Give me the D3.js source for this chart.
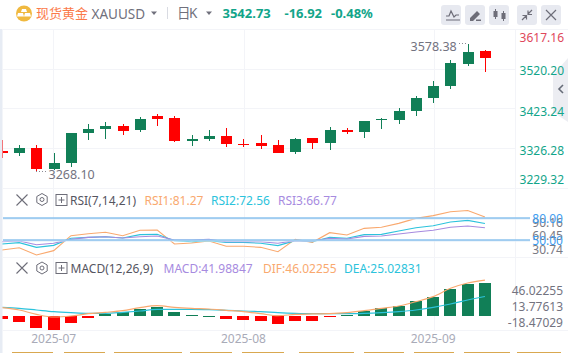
<!DOCTYPE html>
<html><head><meta charset="utf-8">
<script src="https://cdn.jsdelivr.net/npm/d3@7"></script>
<style>html,body{margin:0;padding:0;background:#fff;overflow:hidden}svg{display:block}text{font-family:"Noto Sans","Noto Sans CJK SC",sans-serif}</style>
</head><body><svg id="c" width="568" height="353"></svg>
<script>
const opens =[3318.8,3314,3326.1,3275.4,3289.9,3362.3,3372,3379.2,3369.5,3403.3,3398.5,3343,3347.8,3355,3335.7,3338.2,3333.3,3316.4,3350.2,3338.2,3369.5,3364.7,3393.7,3393.7,3415.4,3446.8,3475.8,3528.9,3559.65];
const closes=[3314,3326.1,3275.4,3289.9,3362.3,3372,3379.2,3367.1,3396.1,3396.1,3343,3347.8,3355,3335.7,3333.3,3330.9,3314,3347.8,3338.2,3369.5,3364.7,3391.3,3396.1,3415.4,3446.8,3475.8,3531.3,3557.9,3542.73];
const highs =[3345.4,3333.3,3333.3,3314,3362.3,3384,3388.9,3384,3400.9,3408.2,3403.3,3357.5,3369.5,3374.4,3347.8,3357.5,3345.4,3350.2,3350.2,3376.8,3374.4,3391.3,3398.5,3422.7,3451.6,3487.8,3538.5,3578.38,3562.7];
const lows  =[3301.9,3306.8,3268.1,3273,3280.2,3345.4,3347.8,3357.5,3364.7,3379.2,3340.6,3330.9,3343,3328.5,3328.5,3323.7,3314,3311.6,3323.7,3321.3,3359.9,3350.2,3372,3384,3403.3,3434.7,3468.5,3524,3509.6];
const rsi1=[36.4,39.5,29.5,35.5,55.9,58.6,60.5,55.9,63.2,63.6,44.5,45.9,48.6,41.4,41.4,40,34.1,50.9,46.8,60,56.8,65.9,67.3,72.7,79.5,83.2,88.6,90.16,81.27];
const rsi2=[44.5,46.4,40,42.7,52.3,53.6,54.5,52.7,57.3,57.7,49.1,47.7,49.1,46.8,46.8,45.5,42.3,49.1,47.7,53.6,52.3,57.3,57.7,62.3,66.8,69.5,74.5,76.8,72.56];
const rsi3=[47.7,48.6,43.6,45.5,50.9,53.6,54.5,52.7,54.5,55.5,50,50,50.9,47.7,47.7,47.7,45.5,49.1,48.6,52.3,51.4,55,55.5,58.2,60.9,63.2,67.3,69.1,66.77];
const macdHist=[-3.8,-7.7,-15,-17.9,-9,-2.6,2.6,5.1,9,11.5,5.1,1.3,0.6,-3.8,-5.1,-6.4,-10.3,-6.4,-6.4,-1.3,1.3,6.4,9.8,12.8,19.2,24.4,34.6,41,41.98847];
const dif=[10.7,7.7,2.1,-1.3,0,3,4.7,6.8,10.7,13.2,11.1,9.8,9,7.3,5.6,3,0.4,2.1,2.6,3,4.3,6.8,9.8,12.8,18.4,24.8,35.5,42.3,46.02255];
const dea=[11.1,9.8,7.7,5.6,4.3,3.4,3.4,4.7,6.4,8.5,8.5,8.5,8.1,7.3,6.4,5.6,4.3,3.4,3,3,3,3.4,4.3,5.6,7.7,11.1,15.4,20.5,25.02831];
const priceTicks=["3617.16","3520.20","3423.24","3326.28","3229.32"];
const rsiLevels=[80,50];
const rsiTicks=["90.16","60.45","30.74"];
const macdTicks=["46.02255","13.77613","-18.47029"];
const monthLabels=[["2025-07",3],["2025-08",14],["2025-09",25]];

const GREEN="#117f57",RED="#ff0000",ORANGE="#f9a96f",CYAN="#2cc3dc",PURPLE="#a78bdf",GRID="#f3f4f8",AX="#73737f",TEAL="#12a58a";
const svg=d3.select("#c");
const n=opens.length;
const x=d3.scaleLinear().domain([0,n-1]).range([1.95,484.95]);
const yP=d3.scaleLinear().domain([3578.38,3268.1]).range([43.5,172]);
const yR=d3.scaleLinear().domain([80,50]).range([218,240]);
const yM=d3.scaleLinear().domain([0,46.02255]).range([316,280.1]);
const t=(s,px,py,o={})=>svg.append("text").attr("x",px).attr("y",py).text(s)
  .attr("font-size",o.size||12).attr("fill",o.fill||AX).attr("text-anchor",o.anchor||"start")
  .attr("font-weight",o.weight||400).attr("dominant-baseline","central");
const hl=(x1,x2,y,c,w=1)=>svg.append("line").attr("x1",x1).attr("x2",x2).attr("y1",y).attr("y2",y).attr("stroke",c).attr("stroke-width",w);
const vl=(xx,y1,y2,c,w=1)=>svg.append("line").attr("x1",xx).attr("x2",xx).attr("y1",y1).attr("y2",y2).attr("stroke",c).attr("stroke-width",w);

// grid
[69.5,108.5,148.5].forEach(g=>hl(3,516,g,GRID));
hl(3,568,29.5,GRID);hl(3,568,188.5,GRID);hl(3,568,257.5,GRID);hl(3,568,330.5,GRID);
[53.5,244.5,434.5,515.5].forEach(v=>vl(v,30,330,GRID));

// candles
const cw=11;
d3.range(n).forEach(i=>{
  const up=closes[i]>=opens[i],c=up?GREEN:RED,cx=Math.round(x(i))+0.5;
  vl(cx,Math.round(yP(highs[i])),Math.round(yP(lows[i])),c);
  const a=Math.round(yP(Math.max(opens[i],closes[i]))),b=Math.round(yP(Math.min(opens[i],closes[i])));
  svg.append("rect").attr("x",cx-cw/2).attr("width",cw).attr("y",a).attr("height",Math.max(1,b-a)).attr("fill",c);
});
// extreme labels
t("3578.38",410.5,46.5,{size:12.5});
svg.append("line").attr("x1",459).attr("x2",468).attr("y1",43.5).attr("y2",43.5).attr("stroke","#8a8a95").attr("stroke-dasharray","1 2");
svg.append("line").attr("x1",36).attr("x2",48).attr("y1",171.5).attr("y2",171.5).attr("stroke","#8a8a95").attr("stroke-dasharray","1 2");
t("3268.10",48.5,174.5,{size:12.5});

// right collapse tab
svg.append("path").attr("d","M568 58L553 75V112L568 122Z").attr("fill","#ecedf2");
svg.append("path").attr("d","M563 85l-4 4 4 4").attr("fill","none").attr("stroke","#666c78").attr("stroke-width",1.6);

// price axis
const priceY=[37,70,111,150,179],priceC=["#e0485a",TEAL,TEAL,TEAL,TEAL];
priceTicks.forEach((s,i)=>t(s,564,priceY[i],{anchor:"end",fill:priceC[i],size:12}));

// RSI
const line=(s)=>d3.line().x((d,i)=>x(i)).y(d=>s(d));
[[rsi1,ORANGE],[rsi2,CYAN],[rsi3,PURPLE]].forEach(([d,c])=>svg.append("path").attr("d",line(yR)(d)).attr("fill","none").attr("stroke",c).attr("stroke-width",1.1));
rsiLevels.forEach(l=>{hl(3,530,yR(l)+0.5,"#dcebf9",2);hl(3,530,yR(l),"#64aee8",1);});
[[rsiTicks[0],222],[rsiTicks[1],235],[rsiTicks[2],249]].forEach(([s,y])=>t(s,563,y,{anchor:"end",size:12,fill:"#7a7a84"}));
[["80.00",218],["50.00",240]].forEach(([s,y])=>t(s,563,y,{anchor:"end",size:12,fill:"#3d9df0"}));

// MACD
d3.range(n).forEach(i=>{
  const v=macdHist[i],cx=Math.round(x(i))+0.5;
  const a=Math.round(yM(Math.max(v,0))),b=Math.round(yM(Math.min(v,0)));
  svg.append("rect").attr("x",cx-6.5).attr("width",12).attr("y",a).attr("height",Math.max(1,b-a)).attr("fill",v>=0?GREEN:RED);
});
[[dea,CYAN],[dif,ORANGE]].forEach(([d,c])=>svg.append("path").attr("d",line(yM).curve(d3.curveMonotoneX)(d)).attr("fill","none").attr("stroke",c).attr("stroke-width",1.2));
[[macdTicks[0],290],[macdTicks[1],306.5],[macdTicks[2],322]].forEach(([s,y])=>t(s,563,y,{anchor:"end",size:12}));

// x axis
monthLabels.forEach(([s,i])=>t(s,x(i),338.5,{anchor:"middle",fill:"#a9abb8",size:12}));
[[12,53],[64,105],[114,182],[190,232],[242,284],[299,354],[364,404],[414,454],[464,510],[517,561]].forEach(([a,b])=>hl(a,b,352.5,"#d9a850"));

// left margin: white gutter then frame, so marks are clipped at the plot's edge
svg.append("rect").attr("y",29).attr("width",2.5).attr("height",324).attr("fill","#e7ecf4");

// header
svg.append("circle").attr("cx",24).attr("cy",13.5).attr("r",8).attr("fill","#f0b93f");
svg.append("path").attr("d","M22 9h4l1 3h-6zM18 13h5l1 3.5h-7zM25 13h5l1 3.5h-7z").attr("fill","#fff");
t("现货黄金",36,12.5,{size:13,fill:"#fb7a4a"});
t("XAUUSD",91.5,14,{size:13.5,fill:"#70707c"});
svg.append("path").attr("d","M151 11.500h6l-3 3.500z").attr("fill","#70707c");
vl(167.5,7,19,"#d9dbe2");
t("日",177,12.5,{size:13.5,fill:"#70707c"});
t("K",189,12.5,{size:13.5,fill:"#70707c"});
svg.append("path").attr("d","M206 11.500h6l-3 3.500z").attr("fill","#70707c");
t("3542.73",222.5,13,{size:13,fill:TEAL,weight:700});
t("-16.92",284.5,13,{size:13,fill:TEAL,weight:700});
t("-0.48%",331,13,{size:13,fill:TEAL,weight:700});
// toolbar buttons
[441,465,489,517,541].forEach(b=>svg.append("rect").attr("x",b).attr("y",5).attr("width",20).attr("height",20).attr("rx",3).attr("fill","#e7e9f0"));
const IC="#6d6d78";
svg.append("path").attr("d","M446 16h3l2-5 3 6 2-2h3M446 20h14").attr("fill","none").attr("stroke",IC).attr("stroke-width",1.2);
svg.append("path").attr("d","M470 18l7-7 3 3-7 7h-3zM476 19.500h5v1.500h-5z").attr("fill",IC);
svg.append("path").attr("d","M495.500 9v10M503.500 11v10").attr("stroke",IC);
svg.append("rect").attr("x",493.5).attr("y",11).attr("width",4).attr("height",6).attr("fill",IC);
svg.append("rect").attr("x",501.5).attr("y",13).attr("width",4).attr("height",6).attr("fill",IC);
svg.append("path").attr("d","M522 20l4-4M522.500 15.500h4v4M532 10l-4 4M528 10.500v4h4").attr("fill","none").attr("stroke",IC).attr("stroke-width",1.2);
svg.append("path").attr("d","M546 10l10 10M556 10l-10 10").attr("stroke",IC).attr("stroke-width",1.2);

// panel headers
const xIcon=(cx,cy)=>svg.append("path").attr("d",`M${cx-5.5} ${cy-5.5}l11 11M${cx+5.5} ${cy-5.5}l-11 11`).attr("stroke",IC).attr("stroke-width",1.1);
const gear=(cx,cy)=>{svg.append("path").attr("d",d3.line()(d3.range(6).map(k=>[cx+6*Math.sin(k*Math.PI/3),cy-6*Math.cos(k*Math.PI/3)]))+"Z").attr("fill","none").attr("stroke",IC);
  svg.append("circle").attr("cx",cx).attr("cy",cy).attr("r",2).attr("fill","none").attr("stroke",IC);};
const plus=(cx,cy)=>{svg.append("rect").attr("x",cx-5.5).attr("y",cy-5.5).attr("width",11).attr("height",11).attr("fill","none").attr("stroke",IC);
  svg.append("path").attr("d",`M${cx-3} ${cy}h6M${cx} ${cy-3}v6`).attr("stroke",IC);};
xIcon(22,200);gear(42,199.5);plus(61.5,200);
t("RSI(7,14,21)",70,200.5,{size:12,fill:"#55555f"});
t("RSI1:81.27",144.5,200.5,{size:12,fill:ORANGE});
t("RSI2:72.56",211,200.5,{size:12,fill:CYAN});
t("RSI3:66.77",278,200.5,{size:12,fill:PURPLE});
xIcon(22,268);gear(42,268);plus(61.5,268);
t("MACD(12,26,9)",70.5,268.5,{size:12,fill:"#55555f"});
t("MACD:41.98847",163.5,268.5,{size:12,fill:PURPLE});
t("DIF:46.02255",263,268.5,{size:12,fill:ORANGE});
t("DEA:25.02831",344,268.5,{size:12,fill:CYAN});
</script></body></html>
